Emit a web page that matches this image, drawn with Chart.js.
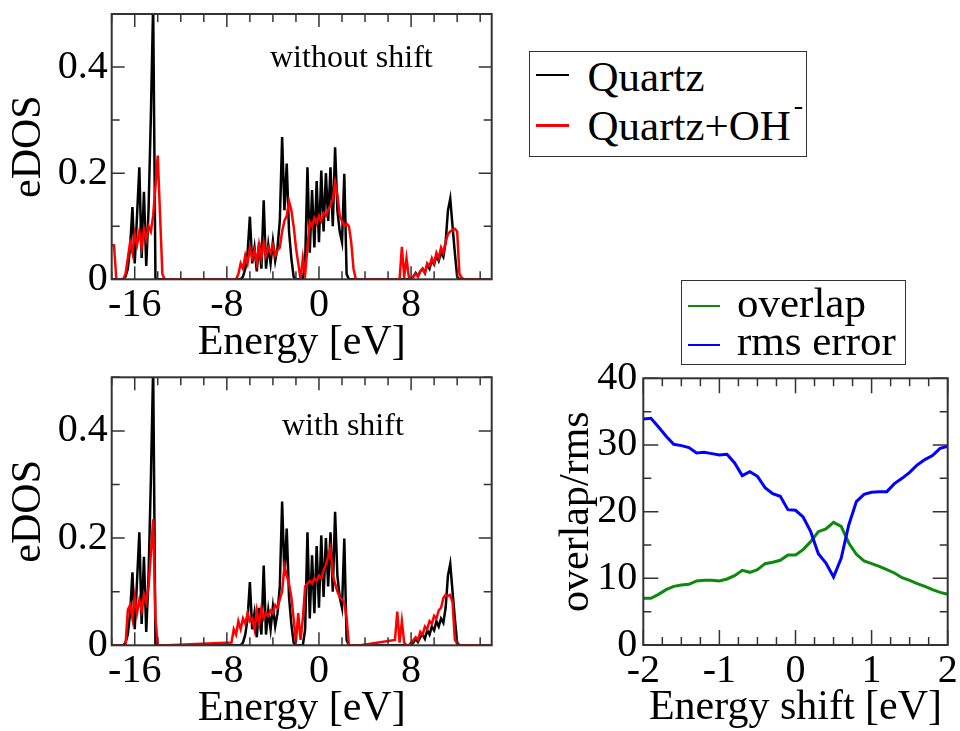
<!DOCTYPE html>
<html>
<head>
<meta charset="utf-8">
<script src="https://cdn.jsdelivr.net/npm/chart.js@4.4.1/dist/chart.umd.min.js"></script>
<style>
  body { margin: 0; background: #fff; width: 960px; height: 731px; overflow: hidden; position: relative;
         font-family: "Liberation Serif", "Times New Roman", serif; color: #000; }
  canvas { position: absolute; left: 0; top: 0; }
  .legend { position: absolute; border: 1.5px solid #333; background: #fff; box-sizing: border-box; }
  .row { position: absolute; white-space: nowrap; font-size: 43px; line-height: 43px; }
  .row sup { font-size: 28px; line-height: 0; vertical-align: 26px; margin-left: 3px; }
  .swatch { position: absolute; height: 2.5px; }
  .note { position: absolute; font-size: 32px; line-height: 32px; white-space: nowrap; }
</style>
</head>
<body>
<canvas id="dosTop" width="960" height="731"></canvas>
<canvas id="dosBottom" width="960" height="731"></canvas>
<canvas id="shiftChart" width="960" height="731"></canvas>
<div class="note" style="left:270px; top:40px">without shift</div>
<div class="note" style="left:282px; top:408px">with shift</div>
<div id="legendDos" class="legend" style="left:529px; top:51px; width:278px; height:106px"></div>
<div id="legendShift" class="legend" style="left:681px; top:280px; width:225px; height:85px"></div>
<script>
// DOS panels: energy grid (eV), gaps between bands are zero
const dosEnergy = [
  -18.0, -17.8, -17.6, -17.4, -17.2, -17.0, -16.8, -16.6, -16.4, -16.2, -16.0, -15.8, -15.6,
  -15.4, -15.2, -15.0, -14.8, -14.6, -14.4, -14.2, -14.0, -13.8, -13.6, -13.4, -13.2,
  -7.6, -7.4, -7.2, -7.0, -6.8, -6.6, -6.4, -6.2, -6.0, -5.8, -5.6, -5.4, -5.2, -5.0, -4.8,
  -4.6, -4.4, -4.2, -4.0, -3.8, -3.6, -3.4, -3.2, -3.0, -2.8, -2.6, -2.4, -2.2, -2.0, -1.8,
  -1.6, -1.4, -1.2, -1.0, -0.8, -0.6, -0.4, -0.2, 0.0, 0.2, 0.4, 0.6, 0.8, 1.0, 1.2, 1.4,
  1.6, 1.8, 2.0, 2.2, 2.4, 2.6, 2.8, 3.0, 3.2, 3.4, 3.6,
  6.6, 6.8, 7.0, 7.2, 7.4, 7.6, 7.8, 8.0, 8.2, 8.4, 8.6, 8.8, 9.0, 9.2, 9.4, 9.6, 9.8, 10.0,
  10.2, 10.4, 10.6, 10.8, 11.0, 11.2, 11.4, 11.6, 11.8, 12.0, 12.2, 12.4, 12.6, 12.8, 13.0,
  15.0
];
const quartzDos = [
  0, 0, 0, 0, 0, 0, 0.005, 0.02, 0.06, 0.136, 0.03, 0.12, 0.211,
  0.04, 0.165, 0.025, 0.13, 0.307, 0.52, 0, 0, 0, 0, 0, 0,
  0, 0, 0, 0, 0, 0.005, 0.02, 0.05, 0.118, 0.03, 0.06, 0.015, 0.07, 0.02, 0.149,
  0.02, 0.065, 0.03, 0.072, 0.035, 0.06, 0.11, 0.268, 0.13, 0.218, 0.09, 0.04, 0.005, 0, 0,
  0, 0, 0.03, 0.211, 0.05, 0.168, 0.06, 0.185, 0.07, 0.205, 0.09, 0.2, 0.11, 0.211, 0.10, 0.249,
  0.13, 0.09, 0.07, 0.199, 0.01, 0, 0, 0, 0, 0, 0,
  0, 0, 0, 0, 0, 0, 0, 0, 0.005, 0.012, 0.006, 0.015, 0.02, 0.012, 0.028, 0.02, 0.035, 0.028,
  0.045, 0.035, 0.05, 0.042, 0.07, 0.13, 0.152, 0.10, 0.05, 0.005, 0, 0, 0, 0, 0,
  0
];
const quartzOhDos = [
  0.064, 0.064, 0, 0, 0, 0, 0.01, 0.04, 0.07, 0.05, 0.085, 0.065, 0.09,
  0.06, 0.095, 0.075, 0.10, 0.09, 0.12, 0.175, 0.233, 0.12, 0.01, 0, 0,
  0, 0, 0, 0.01, 0.03, 0.02, 0.045, 0.03, 0.06, 0.04, 0.055, 0.03, 0.065, 0.04, 0.07,
  0.045, 0.06, 0.05, 0.065, 0.045, 0.055, 0.06, 0.09, 0.11, 0.12, 0.147, 0.13, 0.10, 0.06, 0.03,
  0, 0.04, 0.01, 0.06, 0.108, 0.10, 0.115, 0.105, 0.12, 0.11, 0.125, 0.12, 0.13, 0.14, 0.15, 0.183,
  0.16, 0.12, 0.11, 0.10, 0.105, 0.10, 0.07, 0.02, 0, 0, 0,
  0, 0, 0, 0.061, 0.005, 0.04, 0.005, 0, 0.005, 0.01, 0.005, 0.015, 0.02, 0.012, 0.03, 0.025, 0.04, 0.03,
  0.05, 0.04, 0.06, 0.05, 0.07, 0.085, 0.09, 0.093, 0.095, 0.09, 0.01, 0.003, 0, 0, 0,
  0
];
const quartzOhDosShifted = [
  0, 0, 0, 0, 0, 0, 0, 0.066, 0.075, 0.05, 0.09, 0.06, 0.085,
  0.065, 0.095, 0.08, 0.11, 0.17, 0.235, 0.05, 0, 0, 0, 0, 0,
  0.005, 0.03, 0.02, 0.045, 0.03, 0.05, 0.04, 0.06, 0.045, 0.05, 0.03, 0.065, 0.04, 0.07, 0.05,
  0.06, 0.055, 0.065, 0.06, 0.075, 0.07, 0.086, 0.10, 0.148, 0.13, 0.115, 0.09, 0.05, 0.005, 0.06,
  0.01, 0.05, 0.11, 0.115, 0.12, 0.115, 0.125, 0.12, 0.13, 0.125, 0.14, 0.15, 0.165, 0.182, 0.13, 0.115,
  0.10, 0.09, 0.085, 0.08, 0.05, 0, 0, 0, 0, 0, 0,
  0.01, 0.063, 0.005, 0.045, 0.005, 0, 0, 0.005, 0.01, 0.015, 0.01, 0.025, 0.02, 0.035, 0.03, 0.045, 0.04, 0.055,
  0.05, 0.065, 0.07, 0.088, 0.094, 0.092, 0.094, 0.08, 0.01, 0.003, 0, 0, 0, 0, 0,
  0
];
const dosSeriesNames = ['Quartz', 'Quartz+OH-'];
const dosColors = ['#000000', '#ff0000'];
const dosXTicks = [-16, -8, 0, 8];
const dosYTicks = [0, 0.2, 0.4];

// Right panel: overlap and rms error versus energy shift
const energyShift = [
  -2.0, -1.9, -1.8, -1.7, -1.6, -1.5, -1.4, -1.3, -1.2, -1.1, -1.0, -0.9, -0.8, -0.7,
  -0.6, -0.5, -0.4, -0.3, -0.2, -0.1, 0.0, 0.1, 0.2, 0.3, 0.4, 0.5, 0.6, 0.7,
  0.8, 0.9, 1.0, 1.1, 1.2, 1.3, 1.4, 1.5, 1.6, 1.7, 1.8, 1.9, 2.0
];
const overlapVals = [
  7.0, 7.0, 7.6, 8.3, 8.8, 9.0, 9.1, 9.6, 9.7, 9.7, 9.6, 9.9, 10.4, 11.2,
  10.9, 11.3, 12.2, 12.4, 12.7, 13.5, 13.5, 14.3, 15.5, 17.0, 17.4, 18.4, 17.8, 15.3,
  13.6, 12.6, 12.2, 11.8, 11.3, 10.8, 10.1, 9.7, 9.2, 8.8, 8.3, 7.9, 7.6
];
const rmsErrorVals = [
  33.9, 34.0, 32.7, 31.3, 30.1, 29.9, 29.6, 28.8, 28.9, 28.7, 28.5, 28.6, 27.3, 25.4,
  26.0, 25.3, 23.6, 22.7, 22.3, 20.3, 20.2, 19.2, 17.0, 13.7, 12.3, 10.2, 13.0, 18.0,
  21.5, 22.6, 22.9, 23.0, 23.0, 24.2, 25.0, 25.9, 27.0, 27.8, 28.4, 29.5, 29.8
];
const shiftSeriesNames = ['overlap', 'rms error'];
const shiftColors = ['#0b8a0b', '#0000ff'];
const shiftXTicks = [-2, -1, 0, 1, 2];
const shiftYTicks = [0, 10, 20, 30, 40];

const serif = '"Liberation Serif", "Times New Roman", serif';

// frame + inward major/minor ticks on all four sides
const boxTicks = {
  id: 'boxTicks',
  afterDatasetsDraw(chart, args, o) {
    const { ctx, chartArea: a } = chart;
    ctx.save();
    ctx.strokeStyle = '#333';
    ctx.lineWidth = 1.5;
    ctx.beginPath();
    const mark = (scale, step, horizontal) => {
      const majors = scale.ticks.map(t => t.value);
      const first = Math.ceil(scale.min / step - 1e-9);
      const last = Math.floor(scale.max / step + 1e-9);
      for (let k = first; k <= last; k++) {
        const v = k * step;
        const len = majors.some(m => Math.abs(m - v) < 1e-6) ? o.major : o.minor;
        const p = scale.getPixelForValue(v);
        if (horizontal) {
          ctx.moveTo(p, a.bottom); ctx.lineTo(p, a.bottom - len);
          ctx.moveTo(p, a.top); ctx.lineTo(p, a.top + len);
        } else {
          ctx.moveTo(a.left, p); ctx.lineTo(a.left + len, p);
          ctx.moveTo(a.right, p); ctx.lineTo(a.right - len, p);
        }
      }
    };
    mark(chart.scales.x, o.xStep, true);
    mark(chart.scales.y, o.yStep, false);
    ctx.stroke();
    ctx.lineWidth = 2;
    ctx.strokeRect(a.left, a.top, a.right - a.left, a.bottom - a.top);
    ctx.restore();
  }
};

function axis(min, max, tickValues, title, isX, size, titlePad, labelPad) {
  return {
    type: 'linear', min, max,
    afterBuildTicks: s => { s.ticks = tickValues.map(v => ({ value: v })); },
    afterFit: s => {
      if (isX) { s.height = size; s.paddingLeft = 0; s.paddingRight = 0; }
      else { s.width = size; s.paddingTop = 0; s.paddingBottom = 0; }
    },
    ticks: { font: { family: serif, size: 40, lineHeight: 1.2 }, color: '#000', padding: labelPad,
             maxRotation: 0, autoSkip: false, callback: v => String(v) },
    grid: { display: false, drawTicks: false },
    border: { display: false },
    title: { display: true, text: title, color: '#000', font: { family: serif, size: 42, lineHeight: 1 },
             padding: isX ? { top: 0, bottom: titlePad } : { top: titlePad, bottom: 0 } }
  };
}

function lineSet(label, xs, ys, color, width, order) {
  return {
    label, order, data: xs.map((x, i) => ({ x, y: ys[i] })),
    borderColor: color, borderWidth: width, pointRadius: 0, tension: 0, fill: false
  };
}

function makeChart(id, datasets, padding, scales, tickOpts) {
  return new Chart(document.getElementById(id), {
    type: 'line',
    data: { datasets },
    options: {
      responsive: false, animation: false, events: [], devicePixelRatio: 1,
      layout: { padding },
      plugins: { legend: { display: false }, tooltip: { enabled: false }, boxTicks: tickOpts },
      scales
    },
    plugins: [boxTicks]
  });
}

makeChart('dosTop', [
  lineSet(dosSeriesNames[0], dosEnergy, quartzDos, dosColors[0], 2.5, 1),
  lineSet(dosSeriesNames[1], dosEnergy, quartzOhDos, dosColors[1], 2.5, 0)
], { left: 0, top: 14, right: 468.3, bottom: 367.5 }, {
  x: axis(-18, 15, dosXTicks, 'Energy [eV]', true, 84.2, 0, 2),
  y: axis(0, 0.5, dosYTicks, 'eDOS', false, 111.7, 7.7, 4)
}, { xStep: 2, yStep: 0.1, major: 13, minor: 8 });

makeChart('dosBottom', [
  lineSet(dosSeriesNames[0], dosEnergy, quartzDos, dosColors[0], 2.5, 1),
  lineSet(dosSeriesNames[1], dosEnergy, quartzOhDosShifted, dosColors[1], 2.5, 0)
], { left: 0, top: 377.3, right: 468.3, bottom: 1.5 }, {
  x: axis(-18, 15, dosXTicks, 'Energy [eV]', true, 84.2, 0, 2),
  y: axis(0, 0.5, dosYTicks, 'eDOS', false, 111.7, 7.7, 4)
}, { xStep: 2, yStep: 0.1, major: 13, minor: 8 });

makeChart('shiftChart', [
  lineSet(shiftSeriesNames[0], energyShift, overlapVals, shiftColors[0], 3, 1),
  lineSet(shiftSeriesNames[1], energyShift, rmsErrorVals, shiftColors[1], 3, 0)
], { left: 550, top: 378.3, right: 12.3, bottom: 1.8 }, {
  x: axis(-2, 2, shiftXTicks, 'Energy shift [eV]', true, 84.2, 0, 2),
  y: axis(0, 40, shiftYTicks, 'overlap/rms', false, 93.3, 5.5, 6)
}, { xStep: 0.25, yStep: 5, major: 15, minor: 8 });

// boxed legends, one row per series
function buildLegend(id, names, colors, rows) {
  const box = document.getElementById(id);
  names.forEach((name, i) => {
    const r = rows[i];
    const sw = document.createElement('div');
    sw.className = 'swatch';
    sw.style.left = r.lineX + 'px';
    sw.style.top = (r.lineY - 1.25) + 'px';
    sw.style.width = r.lineW + 'px';
    sw.style.background = colors[i];
    const t = document.createElement('div');
    t.className = 'row';
    t.style.left = r.textX + 'px';
    t.style.top = r.textTop + 'px';
    if (name.endsWith('-')) {
      t.textContent = name.slice(0, -1);
      const sup = document.createElement('sup');
      sup.textContent = '-';
      t.appendChild(sup);
    } else {
      t.textContent = name;
    }
    box.appendChild(sw);
    box.appendChild(t);
  });
}

buildLegend('legendDos', dosSeriesNames, dosColors, [
  { lineX: 5.5, lineW: 33, lineY: 22.8, textX: 57.5, textTop: 3 },
  { lineX: 5.5, lineW: 33, lineY: 73.5, textX: 57.5, textTop: 52 }
]);
buildLegend('legendShift', shiftSeriesNames, shiftColors, [
  { lineX: 6, lineW: 32, lineY: 25.2, textX: 55, textTop: -0.5 },
  { lineX: 6, lineW: 32, lineY: 64.2, textX: 55, textTop: 37.8 }
]);
</script>
</body>
</html>
